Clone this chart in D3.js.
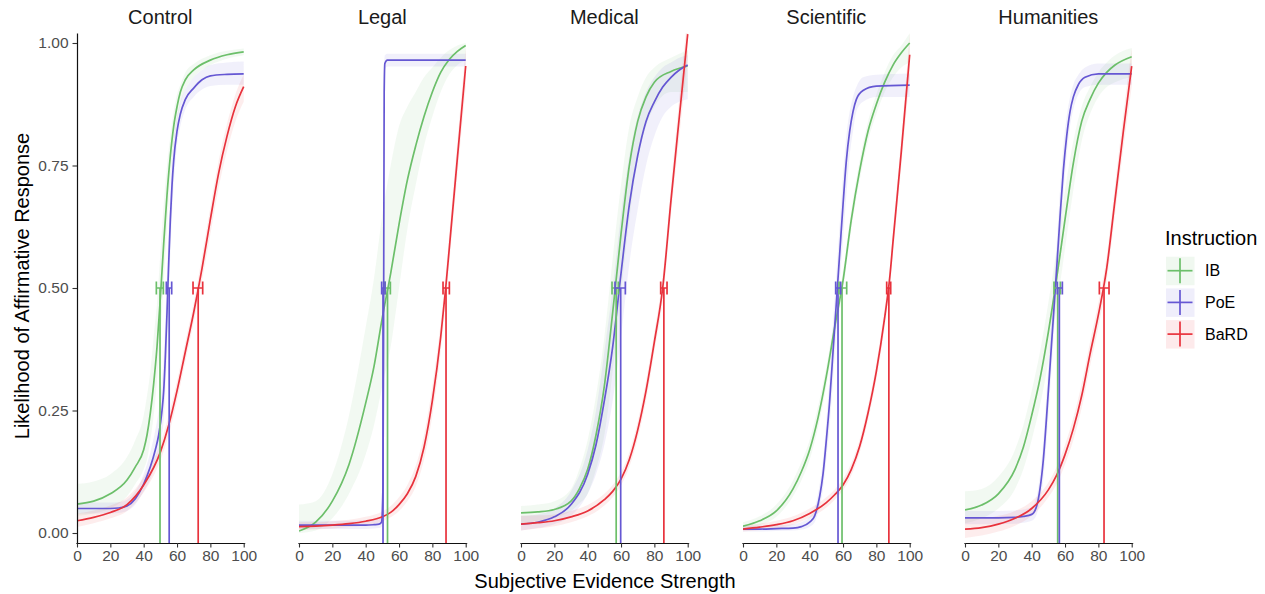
<!DOCTYPE html>
<html><head><meta charset="utf-8">
<script src="https://cdn.jsdelivr.net/npm/d3@7"></script>
<style>body{margin:0;background:#fff}</style>
</head><body>
<svg id="chart" width="1265" height="594"></svg>
<script>
const panels = ["Control","Legal","Medical","Scientific","Humanities"];
const instructions = ["IB","PoE","BaRD"];
const colors = ["#6cbf6a","#6557d3","#e8323c"];
const xTicks = [0,20,40,60,80,100];
const yTicks = [0,0.25,0.5,0.75,1];
const yTickLabels = ["0.00","0.25","0.50","0.75","1.00"];
const xTitle = "Subjective Evidence Strength";
const yTitle = "Likelihood of Affirmative Response";
const legendTitle = "Instruction";

// each point: [evidence, fitted likelihood, CI low, CI high]
const controlIB = [[0,.059,.035,.10],[10,.065,.04,.105],[20,.08,.05,.12],[30,.108,.075,.155],[35,.135,.10,.19],[40,.17,.13,.24],[42,.2,.15,.28],[44,.245,.19,.33],[46,.305,.24,.40],[48,.38,.31,.47],[50,.48,.40,.57],[52,.59,.51,.67],[54,.69,.62,.75],[56,.77,.72,.81],[58,.83,.79,.86],[60,.87,.84,.895],[62,.9,.875,.915],[65,.925,.905,.94],[70,.945,.93,.957],[80,.965,.955,.975],[90,.976,.968,.984],[100,.982,.975,.989]];
const controlPoE = [[0,.05,.04,.062],[10,.05,.04,.062],[20,.05,.04,.062],[25,.051,.041,.063],[30,.055,.045,.068],[35,.07,.058,.085],[40,.1,.085,.12],[44,.135,.11,.165],[47,.17,.14,.21],[49,.2,.16,.25],[51,.25,.2,.31],[52,.29,.23,.36],[53,.36,.29,.44],[54,.45,.37,.53],[55,.55,.47,.62],[56,.64,.57,.7],[57,.71,.65,.76],[58,.76,.71,.8],[60,.82,.79,.85],[62,.855,.83,.88],[65,.885,.865,.905],[70,.908,.89,.93],[75,.925,.905,.945],[80,.933,.912,.955],[90,.936,.915,.96],[100,.937,.915,.962]];
const controlBaRD = [[0,.025,.012,.04],[10,.032,.02,.046],[20,.042,.03,.056],[30,.058,.045,.073],[40,.098,.083,.114],[50,.165,.148,.183],[55,.22,.2,.24],[60,.29,.27,.31],[65,.37,.35,.39],[70,.45,.43,.47],[75,.54,.515,.565],[80,.64,.61,.665],[85,.735,.705,.76],[90,.81,.78,.835],[95,.87,.84,.895],[100,.911,.88,.935]];

const legalIB = [[0,.004,0,.058],[10,.022,.005,.065],[20,.065,.03,.12],[30,.14,.08,.24],[40,.265,.16,.42],[45,.34,.22,.52],[50,.44,.3,.65],[55,.53,.38,.75],[60,.63,.5,.83],[65,.72,.62,.87],[70,.79,.71,.9],[75,.85,.79,.93],[80,.9,.85,.95],[85,.94,.9,.97],[90,.966,.935,.985],[95,.983,.955,.995],[100,.995,.965,1.0]];
const legalPoE = [[0,.016,.008,.025],[10,.016,.008,.025],[20,.016,.008,.025],[30,.016,.008,.025],[40,.016,.008,.026],[45,.017,.009,.027],[48,.018,.01,.028],[49.5,.022,.012,.035],[50.4,.1,.05,.2],[50.8,.5,.4,.6],[51.1,.9,.85,.95],[51.5,.958,.945,.975],[53,.965,.952,.978],[70,.965,.952,.978],[100,.965,.952,.978]];
const legalBaRD = [[0,.013,.006,.022],[10,.014,.007,.022],[20,.016,.009,.024],[30,.019,.012,.027],[40,.024,.016,.033],[50,.033,.024,.044],[55,.042,.032,.055],[60,.058,.045,.073],[65,.08,.065,.098],[70,.115,.095,.137],[75,.175,.15,.2],[80,.27,.24,.3],[85,.4,.37,.43],[88,.5,.47,.53],[90,.575,.545,.605],[95,.765,.73,.8],[100,.953,.91,.99]];

const medicalIB = [[0,.041,.02,.055],[10,.043,.025,.058],[20,.048,.032,.065],[30,.065,.045,.09],[35,.09,.06,.13],[40,.13,.08,.19],[45,.2,.13,.28],[50,.3,.2,.4],[55,.45,.33,.56],[60,.61,.49,.71],[65,.75,.64,.83],[70,.84,.76,.89],[75,.89,.83,.93],[80,.92,.87,.95],[90,.942,.9,.97],[100,.953,.9,.985]];
const medicalPoE = [[0,.018,.005,.035],[10,.022,.01,.038],[20,.033,.018,.05],[30,.058,.035,.085],[40,.12,.08,.17],[45,.18,.12,.25],[50,.27,.18,.37],[55,.38,.27,.5],[60,.53,.4,.65],[65,.67,.55,.77],[70,.77,.66,.85],[75,.84,.75,.9],[80,.88,.81,.93],[85,.91,.85,.95],[90,.93,.87,.96],[95,.945,.88,.97],[100,.955,.885,.975]];
const medicalBaRD = [[0,.018,.005,.035],[10,.021,.009,.036],[20,.025,.014,.038],[30,.033,.022,.045],[40,.045,.034,.057],[50,.068,.056,.08],[55,.085,.073,.098],[60,.11,.097,.124],[65,.15,.135,.165],[70,.21,.193,.227],[75,.29,.27,.31],[80,.39,.37,.41],[85,.5,.475,.525],[90,.68,.65,.71],[95,.85,.81,.89],[100,1.018,.97,1.06]];

const scientificIB = [[0,.014,.008,.022],[10,.025,.016,.034],[20,.045,.033,.058],[30,.09,.075,.107],[35,.125,.107,.145],[40,.17,.15,.19],[45,.235,.215,.258],[50,.32,.3,.34],[55,.42,.4,.44],[60,.515,.495,.535],[65,.64,.62,.66],[70,.74,.72,.76],[75,.82,.8,.84],[80,.875,.855,.895],[85,.92,.9,.94],[90,.955,.93,.975],[95,.98,.95,.995],[100,1.0,.96,1.02]];
const scientificPoE = [[0,.008,.003,.015],[10,.008,.003,.015],[20,.009,.004,.016],[30,.01,.005,.018],[35,.013,.007,.022],[40,.022,.013,.033],[43,.035,.022,.05],[46,.075,.055,.1],[48,.12,.09,.15],[50,.19,.15,.23],[52,.27,.22,.32],[54,.37,.31,.43],[56,.47,.41,.53],[58,.57,.51,.63],[60,.67,.6,.73],[62,.76,.69,.81],[64,.82,.77,.86],[66,.86,.82,.89],[68,.885,.86,.91],[72,.903,.88,.93],[80,.912,.89,.935],[100,.914,.89,.938]];
const scientificBaRD = [[0,.008,.003,.015],[10,.012,.006,.019],[20,.017,.01,.025],[30,.025,.017,.034],[40,.04,.031,.05],[50,.062,.052,.073],[55,.078,.068,.089],[60,.098,.087,.11],[65,.13,.118,.143],[70,.177,.164,.191],[75,.245,.23,.26],[80,.33,.313,.347],[85,.44,.42,.46],[88,.52,.5,.54],[90,.595,.57,.62],[95,.78,.75,.81],[100,.976,.93,1.02]];

const humanitiesIB = [[0,.047,.02,.085],[10,.057,.03,.09],[20,.08,.05,.115],[30,.13,.09,.17],[35,.175,.13,.22],[40,.24,.19,.29],[45,.315,.26,.37],[50,.41,.35,.47],[55,.52,.46,.58],[60,.64,.58,.7],[65,.755,.7,.8],[70,.84,.8,.87],[75,.885,.855,.91],[80,.918,.89,.94],[85,.94,.91,.96],[90,.955,.92,.975],[100,.972,.93,.99]];
const humanitiesPoE = [[0,.031,.018,.045],[10,.031,.018,.045],[20,.031,.018,.045],[30,.032,.019,.046],[35,.034,.021,.048],[40,.038,.025,.053],[43,.055,.038,.075],[45,.09,.065,.12],[47,.15,.11,.19],[49,.24,.19,.29],[51,.34,.29,.39],[53,.44,.39,.49],[55,.54,.49,.59],[57,.645,.59,.7],[59,.74,.69,.79],[61,.81,.77,.85],[63,.86,.83,.89],[65,.89,.865,.915],[68,.915,.895,.935],[72,.93,.91,.95],[80,.937,.915,.958],[100,.937,.915,.958]];
const humanitiesBaRD = [[0,.008,-.01,.03],[10,.011,-.005,.03],[20,.018,.003,.035],[30,.03,.015,.045],[40,.05,.035,.065],[50,.088,.073,.103],[55,.118,.1,.135],[60,.16,.14,.18],[65,.213,.19,.235],[70,.28,.255,.305],[75,.365,.34,.39],[80,.445,.42,.47],[85,.54,.515,.565],[90,.68,.65,.71],[95,.82,.785,.855],[100,.953,.91,.99]];

// thresholds at 0.5: [estimate, CI low, CI high] for IB, PoE, BaRD
const controlThresh = [[49.8,47.6,51.8],[55.3,53.6,56.8],[72.7,69.6,75.4]];
const legalThresh = [[53.1,51.6,54.8],[50.4,49.6,51.6],[88.2,86.4,90.2]];
const medicalThresh = [[57.1,54.6,58.4],[59.8,56.4,62.6],[85.7,83.8,87.6]];
const scientificThresh = [[59.4,57.6,62.2],[57.0,55.6,58.6],[87.5,86.2,88.6]];
const humanitiesThresh = [[55.6,53.4,57.2],[56.6,55.4,58.4],[83.4,80.6,86.4]];

const curvesByPanel = [
  [controlIB, controlPoE, controlBaRD],
  [legalIB, legalPoE, legalBaRD],
  [medicalIB, medicalPoE, medicalBaRD],
  [scientificIB, scientificPoE, scientificBaRD],
  [humanitiesIB, humanitiesPoE, humanitiesBaRD]
];
const threshByPanel = [controlThresh, legalThresh, medicalThresh, scientificThresh, humanitiesThresh];

const svg = d3.select("#chart");
const font = "'Liberation Sans', Arial, Helvetica, sans-serif";
const panelLeft = 77, panelStep = 222, panelW = 166.7;
const plotTop = 33, plotBottom = 543;
const y = d3.scaleLinear().domain([-0.0204, 1.0204]).range([plotBottom, plotTop]);
const defs = svg.append("defs");

panels.forEach((name, i) => {
  const x0 = panelLeft + i * panelStep;
  const x = d3.scaleLinear().domain([0, 100]).range([x0, x0 + panelW]);
  const g = svg.append("g");
  defs.append("clipPath").attr("id", "clip" + i).append("rect")
    .attr("x", x0).attr("y", plotTop).attr("width", panelW + 2).attr("height", plotBottom - plotTop);
  const plot = g.append("g").attr("clip-path", `url(#clip${i})`);
  const area = d3.area().x(d => x(d[0])).y0(d => y(d[2])).y1(d => y(d[3])).curve(d3.curveMonotoneX);
  const line = d3.line().x(d => x(d[0])).y(d => y(d[1])).curve(d3.curveMonotoneX);

  curvesByPanel[i].forEach((c, k) => {
    plot.append("path").attr("d", area(c)).attr("fill", colors[k]).attr("fill-opacity", 0.09);
  });
  curvesByPanel[i].forEach((c, k) => {
    plot.append("path").attr("d", line(c)).attr("fill", "none")
      .attr("stroke", colors[k]).attr("stroke-width", 1.7);
  });
  threshByPanel[i].forEach((t, k) => {
    plot.append("line").attr("x1", x(t[0])).attr("x2", x(t[0]))
      .attr("y1", plotBottom).attr("y2", y(0.5))
      .attr("stroke", colors[k]).attr("stroke-width", 1.7);
  });
  threshByPanel[i].forEach((t, k) => {
    const yy = y(0.5);
    const eb = plot.append("g").attr("stroke", colors[k]).attr("stroke-width", 1.7).attr("fill", "none");
    eb.append("line").attr("x1", x(t[1])).attr("x2", x(t[2])).attr("y1", yy).attr("y2", yy);
    eb.append("line").attr("x1", x(t[1])).attr("x2", x(t[1])).attr("y1", yy - 6.5).attr("y2", yy + 6.5);
    eb.append("line").attr("x1", x(t[2])).attr("x2", x(t[2])).attr("y1", yy - 6.5).attr("y2", yy + 6.5);
  });

  // x axis
  const ax = g.append("g").attr("transform", `translate(0,${plotBottom})`)
    .call(d3.axisBottom(x).tickValues(xTicks).tickSize(4.5).tickSizeOuter(0).tickPadding(2.5));
  ax.select(".domain").attr("stroke", "#111").attr("stroke-width", 1.2)
    .attr("d", `M${x0 - 0.6},0.5H${x0 + panelW + 1.5}`);
  ax.selectAll(".tick line").attr("stroke", "#333").attr("stroke-width", 1.1);
  ax.selectAll(".tick text").attr("fill", "#4d4d4d").style("font-family", font).style("font-size", "15.5px");

  if (i === 0) {
    const ay = g.append("g").attr("transform", `translate(${x0},0)`)
      .call(d3.axisLeft(y).tickValues(yTicks).tickFormat((d, j) => yTickLabels[j]).tickSize(4.5).tickSizeOuter(0).tickPadding(4));
    ay.select(".domain").attr("stroke", "#111").attr("stroke-width", 1.2);
    ay.selectAll(".tick line").attr("stroke", "#333").attr("stroke-width", 1.1);
    ay.selectAll(".tick text").attr("fill", "#4d4d4d").style("font-family", font).style("font-size", "15.5px");
  }

  // strip title
  g.append("text").attr("x", x0 + panelW / 2).attr("y", 23.5).attr("text-anchor", "middle")
    .style("font-family", font).style("font-size", "20px").attr("fill", "#1a1a1a").text(name);
});

// axis titles
svg.append("text").attr("x", 605).attr("y", 588).attr("text-anchor", "middle")
  .style("font-family", font).style("font-size", "20px").attr("fill", "#000").text(xTitle);
svg.append("text").attr("transform", "translate(29,286) rotate(-90)").attr("text-anchor", "middle")
  .style("font-family", font).style("font-size", "20px").attr("fill", "#000").text(yTitle);

// legend
const lg = svg.append("g");
lg.append("text").attr("x", 1165).attr("y", 245).style("font-family", font).style("font-size", "20px")
  .attr("fill", "#000").text(legendTitle);
instructions.forEach((lab, k) => {
  const cy = 270.7 + k * 31.7;
  lg.append("rect").attr("x", 1166).attr("y", cy - 14).attr("width", 28.5).attr("height", 28.5)
    .attr("fill", colors[k]).attr("fill-opacity", 0.1);
  lg.append("line").attr("x1", 1167.5).attr("x2", 1192.5).attr("y1", cy).attr("y2", cy)
    .attr("stroke", colors[k]).attr("stroke-width", 1.7);
  lg.append("line").attr("x1", 1180).attr("x2", 1180).attr("y1", cy - 12.5).attr("y2", cy + 12.5)
    .attr("stroke", colors[k]).attr("stroke-width", 1.7);
  lg.append("text").attr("x", 1205).attr("y", cy).attr("dy", "0.35em")
    .style("font-family", font).style("font-size", "16px").attr("fill", "#000").text(lab);
});
</script>
</body></html>
